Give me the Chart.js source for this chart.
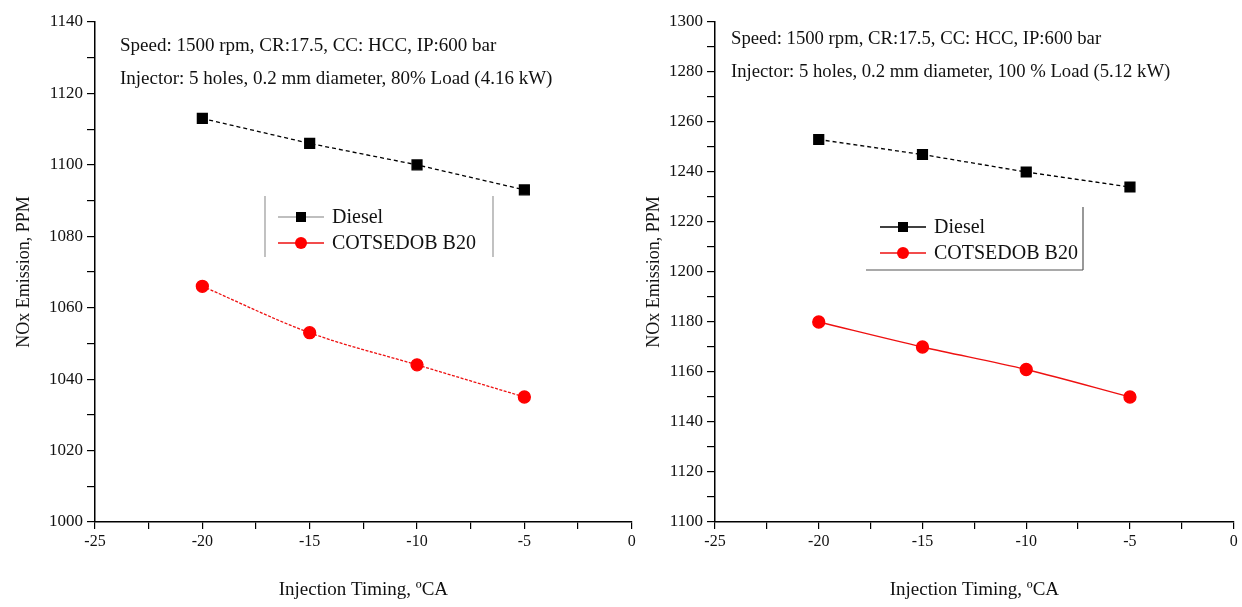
<!DOCTYPE html>
<html>
<head>
<meta charset="utf-8">
<script src="https://cdn.jsdelivr.net/npm/chart.js@4.4.1/dist/chart.umd.min.js"></script>
<style>
  body { margin: 0; background: #fff; }
  #wrap { position: relative; width: 1242px; height: 607px; background: #fff; }
  .box { position: absolute; top: 0; height: 607px; }
</style>
</head>
<body>
<div id="wrap">
  <div class="box" style="left:0;width:640px"><canvas id="chart80"></canvas></div>
  <div class="box" style="left:640px;width:602px"><canvas id="chart100"></canvas></div>
</div>
<script>
// data
const injTiming = [-20, -15, -10, -5];
const diesel80 = [1113, 1106, 1100, 1093];
const b20_80 = [1066, 1053, 1044, 1035];
const diesel100 = [1253, 1247, 1240, 1234];
const b20_100 = [1180, 1170, 1161, 1150];
const seriesNames = ["Diesel", "COTSEDOB B20"];
const notes80 = ["Speed: 1500 rpm, CR:17.5, CC: HCC, IP:600 bar",
                 "Injector: 5 holes, 0.2 mm diameter, 80% Load (4.16 kW)"];
const notes100 = ["Speed: 1500 rpm, CR:17.5, CC: HCC, IP:600 bar",
                  "Injector: 5 holes, 0.2 mm diameter, 100 % Load (5.12 kW)"];
const xMajor = [-25, -20, -15, -10, -5, 0];
const yMajor80 = [1000, 1020, 1040, 1060, 1080, 1100, 1120, 1140];
const yMajor100 = [1100, 1120, 1140, 1160, 1180, 1200, 1220, 1240, 1260, 1280, 1300];
const xTitle = "Injection Timing, \u00BACA";
const yTitle = "NOx Emission, PPM";

const SERIF = "'Liberation Serif', 'Times New Roman', serif";

function pts(ys){
  return injTiming.map((x, i) => ({ x: x, y: ys[i] }));
}

// text notes + hand-made legend box
const extras = {
  id: "extras",
  afterDraw(chart, args, o){
    const ctx = chart.ctx;
    const a = chart.chartArea;
    ctx.save();
    ctx.fillStyle = "#111";
    ctx.font = o.noteSize + "px " + SERIF;
    ctx.textBaseline = "alphabetic";
    o.notes.forEach((t, i) => ctx.fillText(t, a.left + o.noteX, a.top + o.noteY + i * 33));

    // legend frame
    const lx = a.left + o.lgX, ly = a.top + o.lgY;
    ctx.strokeStyle = o.frameColor;
    ctx.lineWidth = 1.2;
    ctx.beginPath();
    o.frame.forEach(s => {
      ctx.moveTo(lx + s[0], ly + s[1]);
      ctx.lineTo(lx + s[2], ly + s[3]);
    });
    ctx.stroke();

    chart.data.datasets.forEach((ds, i) => {
      const y = ly + o.rowY + i * 26;
      ctx.strokeStyle = i === 0 ? o.dieselLine : ds.borderColor;
      ctx.lineWidth = 1.3;
      ctx.setLineDash([]);
      ctx.beginPath();
      ctx.moveTo(lx + o.sampleX, y);
      ctx.lineTo(lx + o.sampleX + 46, y);
      ctx.stroke();
      ctx.fillStyle = ds.pointBackgroundColor;
      ctx.beginPath();
      if (ds.pointStyle === "rect") {
        ctx.rect(lx + o.sampleX + 23 - 5, y - 5, 10, 10);
      } else {
        ctx.arc(lx + o.sampleX + 23, y, 6, 0, Math.PI * 2);
      }
      ctx.fill();
      ctx.fillStyle = "#111";
      ctx.font = "20px " + SERIF;
      ctx.textBaseline = "middle";
      ctx.fillText(ds.label, lx + o.sampleX + 54, y + 1);
    });
    ctx.restore();
  }
};

function makeChart(id, d1, d2, yMin, yMax, yMajor, padLeft, yWidth, extraOpts, redDash){
  const xStep = 2.5, yStep = 10;
  return new Chart(document.getElementById(id), {
    type: "line",
    data: {
      datasets: [{
        label: seriesNames[0],
        data: pts(d1),
        borderColor: "#000",
        borderWidth: 1.3,
        borderDash: [4, 3],
        pointStyle: "rect",
        pointRadius: 7,
        pointBackgroundColor: "#000",
        pointBorderColor: "#000",
        tension: 0
      }, {
        label: seriesNames[1],
        data: pts(d2),
        borderColor: "#ee1111",
        borderWidth: 1.3,
        borderDash: redDash,
        pointStyle: "circle",
        pointRadius: 6,
        pointBackgroundColor: "#ff0000",
        pointBorderColor: "#ff0000",
        cubicInterpolationMode: "monotone"
      }]
    },
    options: {
      responsive: true,
      maintainAspectRatio: false,
      animation: false,
      layout: { padding: { left: padLeft, top: 22, right: 8, bottom: 0 } },
      plugins: {
        legend: { display: false },
        tooltip: { enabled: false },
        extras: extraOpts
      },
      scales: {
        x: {
          type: "linear",
          min: -25, max: 0,
          afterFit: s => { s.height = 85; },
          afterBuildTicks: s => {
            const t = [];
            for (let v = -25; v <= 0; v += xStep) t.push({ value: v });
            s.ticks = t;
          },
          grid: { drawOnChartArea: false, drawTicks: true, tickLength: 7, color: "#000", lineWidth: 1.2 },
          border: { display: true, color: "#000", width: 1.5 },
          ticks: {
            color: "#111",
            font: { family: SERIF, size: 16 },
            padding: 3,
            autoSkip: false,
            maxRotation: 0,
            callback: v => xMajor.includes(v) ? String(v) : ""
          },
          title: {
            display: true, text: xTitle, color: "#111",
            font: { family: SERIF, size: 19 },
            padding: { top: 0, bottom: 6 }
          }
        },
        y: {
          min: yMin, max: yMax,
          afterFit: s => { s.width = yWidth; },
          afterBuildTicks: s => {
            const t = [];
            for (let v = yMin; v <= yMax; v += yStep) t.push({ value: v });
            s.ticks = t;
          },
          grid: { drawOnChartArea: false, drawTicks: true, tickLength: 8, color: "#000", lineWidth: 1.2 },
          border: { display: true, color: "#000", width: 1.5 },
          ticks: {
            color: "#111",
            font: { family: SERIF, size: 17 },
            padding: 4,
            autoSkip: false,
            callback: v => yMajor.includes(v) ? String(v) : ""
          },
          title: {
            display: true, text: yTitle, color: "#111",
            font: { family: SERIF, size: 18 },
            padding: 0
          }
        }
      }
    },
    plugins: [extras]
  });
}

makeChart("chart80", diesel80, b20_80, 1000, 1140, yMajor80, 13, 82, {
  notes: notes80, noteSize: 19, noteX: 25, noteY: 29,
  lgX: 170, lgY: 174, frameColor: "#999", dieselLine: "#aaa",
  frame: [[0, 0, 0, 61], [228, 0, 228, 61]],
  rowY: 21, sampleX: 13
}, [3, 1.5]);

makeChart("chart100", diesel100, b20_100, 1100, 1300, yMajor100, 3, 72, {
  notes: notes100, noteSize: 18.7, noteX: 16, noteY: 22,
  lgX: 151, lgY: 185, frameColor: "#555", dieselLine: "#000",
  frame: [[0, 63, 217, 63], [217, 0, 217, 63]],
  rowY: 20, sampleX: 14
}, []);
</script>
</body>
</html>
